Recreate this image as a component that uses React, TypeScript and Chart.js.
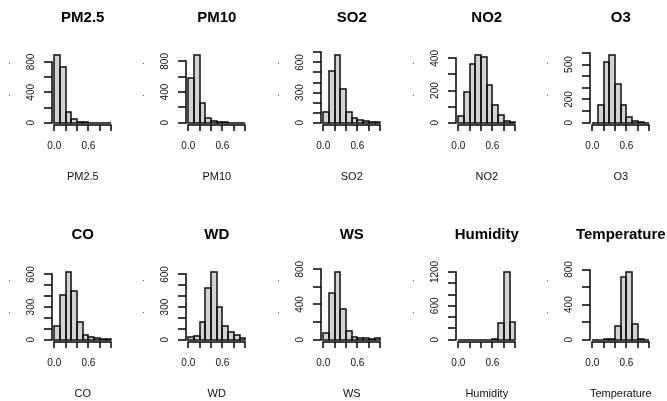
import { useEffect, useRef } from "react";
import { Chart, registerables } from "chart.js";

Chart.register(...registerables);

// ---- data ----
const binEdges = [0, 0.1, 0.2, 0.3, 0.4, 0.5, 0.6, 0.7, 0.8, 0.9, 1.0];
const binCenters = [0.05, 0.15, 0.25, 0.35, 0.45, 0.55, 0.65, 0.75, 0.85, 0.95];
const xTickValues = [0, 0.2, 0.4, 0.6, 0.8, 1.0];
const xTickLabels = ["0.0", "", "", "0.6", "", ""];

const pm25Counts = [896, 734, 140, 44, 7, 3, 1, 1, 0, 1];
const pm10Counts = [581, 887, 258, 57, 26, 8, 3, 2, 1, 1];
const so2Counts = [107, 517, 677, 333, 107, 43, 30, 17, 7, 3];
const no2Counts = [44, 190, 365, 423, 408, 233, 108, 46, 10, 2];
const o3Counts = [1, 153, 525, 585, 332, 153, 46, 17, 6, 0];
const coCounts = [123, 415, 625, 446, 163, 46, 28, 15, 6, 3];
const wdCounts = [22, 37, 163, 477, 625, 298, 129, 68, 40, 18];
const wsCounts = [72, 525, 772, 350, 99, 34, 19, 15, 11, 23];
const humidityCounts = [0, 0, 0, 0, 0, 0, 15, 296, 1205, 313];
const temperatureCounts = [0, 0, 3, 13, 153, 710, 775, 179, 11, 0];

const pmYTicks = [0, 200, 400, 600, 800];
const pmYLabels = [0, 400, 800];
const so2YTicks = [0, 100, 200, 300, 400, 500, 600, 700];
const so2YLabels = [0, 300, 600];
const no2YTicks = [0, 100, 200, 300, 400];
const no2YLabels = [0, 200, 400];
const o3YTicks = [0, 100, 200, 300, 400, 500, 600];
const o3YLabels = [0, 200, 500];
const coYTicks = [0, 100, 200, 300, 400, 500, 600];
const coYLabels = [0, 300, 600];
const wsYTicks = [0, 200, 400, 600, 800];
const wsYLabels = [0, 400, 800];
const humYTicks = [0, 200, 400, 600, 800, 1000, 1200];
const humYLabels = [0, 600, 1200];
const tempYTicks = [0, 200, 400, 600, 800];
const tempYLabels = [0, 400, 800];

type PanelDef = { title: string; counts: number[]; yTicks: number[]; yLabels: number[] };

const panels: PanelDef[] = [
  { title: "PM2.5", counts: pm25Counts, yTicks: pmYTicks, yLabels: pmYLabels },
  { title: "PM10", counts: pm10Counts, yTicks: pmYTicks, yLabels: pmYLabels },
  { title: "SO2", counts: so2Counts, yTicks: so2YTicks, yLabels: so2YLabels },
  { title: "NO2", counts: no2Counts, yTicks: no2YTicks, yLabels: no2YLabels },
  { title: "O3", counts: o3Counts, yTicks: o3YTicks, yLabels: o3YLabels },
  { title: "CO", counts: coCounts, yTicks: coYTicks, yLabels: coYLabels },
  { title: "WD", counts: wdCounts, yTicks: coYTicks, yLabels: coYLabels },
  { title: "WS", counts: wsCounts, yTicks: wsYTicks, yLabels: wsYLabels },
  { title: "Humidity", counts: humidityCounts, yTicks: humYTicks, yLabels: humYLabels },
  { title: "Temperature", counts: temperatureCounts, yTicks: tempYTicks, yLabels: tempYLabels },
];

// ---- layout ----
const FONT = "'Liberation Sans', Arial, Helvetica, sans-serif";
const COL_START = 51.7;
const COL_STEP = 134.6;
const UNIT = 57;
const MAX_H = 68;
const ROW_BASE = [122.7, 340];
const CANVAS_W = 140;
const CANVAS_H = 184;
const AXIS_LEFT_IN_CANVAS = 60;
const PLOT_W = UNIT * 1.08;
const LOCAL_BASE = 122.7;
const LW = 1.5;

function makeAxesPlugin(p: PanelDef) {
  return {
    id: "rAxes",
    afterDatasetsDraw(chart: any) {
      const { ctx, chartArea } = chart;
      const xs = chart.scales.x;
      const ys = chart.scales.y;
      ctx.save();
      ctx.lineWidth = LW;
      // bar outlines (R rect borders, including empty bins)
      ctx.strokeStyle = "#111";
      const meta = chart.getDatasetMeta(0);
      meta.data.forEach((el: any) => {
        const { x, y, base, width } = el.getProps(["x", "y", "base", "width"], true);
        const l = Math.round(x - width / 2);
        const r = Math.round(x + width / 2);
        const t = Math.round(y);
        const b = Math.round(base);
        ctx.strokeRect(l, t, r - l, b - t);
      });

      ctx.strokeStyle = "#000";
      ctx.fillStyle = "#111";
      // x axis
      const ya = Math.round(chartArea.bottom);
      const xFirst = Math.round(xs.getPixelForValue(xTickValues[0]));
      const xLast = Math.round(xs.getPixelForValue(xTickValues[xTickValues.length - 1]));
      ctx.beginPath();
      ctx.moveTo(xFirst - LW / 2, ya);
      ctx.lineTo(xLast + LW / 2, ya);
      xTickValues.forEach((v) => {
        const px = Math.round(xs.getPixelForValue(v));
        ctx.moveTo(px, ya);
        ctx.lineTo(px, ya + 6);
      });
      ctx.stroke();
      ctx.font = `10px ${FONT}`;
      ctx.textAlign = "center";
      ctx.textBaseline = "middle";
      xTickValues.forEach((v, i) => {
        if (xTickLabels[i]) ctx.fillText(xTickLabels[i], xs.getPixelForValue(v), chartArea.bottom + 20.5);
      });

      // y axis
      const xa = Math.round(chartArea.left);
      const yFirst = Math.round(ys.getPixelForValue(p.yTicks[0]));
      const yLast = Math.round(ys.getPixelForValue(p.yTicks[p.yTicks.length - 1]));
      ctx.beginPath();
      ctx.moveTo(xa, yFirst + LW / 2);
      ctx.lineTo(xa, yLast - LW / 2);
      p.yTicks.forEach((v) => {
        const py = Math.round(ys.getPixelForValue(v));
        ctx.moveTo(xa, py);
        ctx.lineTo(xa - 8, py);
      });
      ctx.stroke();
      p.yLabels.forEach((v) => {
        ctx.save();
        ctx.translate(chartArea.left - 21, ys.getPixelForValue(v));
        ctx.rotate(-Math.PI / 2);
        ctx.fillText(String(v), 0, 0);
        ctx.restore();
      });

      // faint marks left of the y axis
      const y0 = ys.getPixelForValue(0);
      ctx.fillStyle = "rgba(70,50,150,0.85)";
      ctx.fillRect(Math.round(chartArea.left - 43.5), Math.round(y0 - 59.5), 1, 1);
      ctx.fillRect(Math.round(chartArea.left - 43.5), Math.round(y0 - 28), 1, 1);

      // title and x label
      const cx = (chartArea.left + chartArea.right) / 2;
      ctx.fillStyle = "#000";
      ctx.font = `bold 15px ${FONT}`;
      ctx.fillText(p.title, cx, 18.2);
      ctx.fillStyle = "#111";
      ctx.font = `11px ${FONT}`;
      ctx.fillText(p.title, cx, chartArea.bottom + 52);
      ctx.restore();
    },
  };
}

function Panel({ p, idx }: { p: PanelDef; idx: number }) {
  const ref = useRef<HTMLCanvasElement>(null);
  const col = idx % 5;
  const row = Math.floor(idx / 5);
  const left = COL_START + COL_STEP * col - AXIS_LEFT_IN_CANVAS;
  const top = ROW_BASE[row] - LOCAL_BASE;

  useEffect(() => {
    const maxCount = Math.max(...p.counts);
    const padTop = LOCAL_BASE - MAX_H * 1.04;
    const padBottom = CANVAS_H - (LOCAL_BASE + MAX_H * 0.04);
    const chart = new Chart(ref.current as HTMLCanvasElement, {
      type: "bar",
      data: {
        datasets: [
          {
            data: binCenters.map((c, i) => ({ x: c, y: p.counts[i] })),
            backgroundColor: "#d3d3d3",
            borderWidth: 0,
            barPercentage: 1,
            categoryPercentage: 1,
          },
        ],
      },
      options: {
        responsive: false,
        animation: false,
        devicePixelRatio: 1,
        events: [],
        layout: {
          padding: {
            left: AXIS_LEFT_IN_CANVAS,
            right: CANVAS_W - AXIS_LEFT_IN_CANVAS - PLOT_W,
            top: padTop,
            bottom: padBottom,
          },
        },
        plugins: { legend: { display: false }, tooltip: { enabled: false } },
        scales: {
          x: {
            type: "linear",
            min: -0.04,
            max: 1.04,
            offset: false,
            display: false,
            afterBuildTicks: (s: any) => {
              s.ticks = binEdges.map((v) => ({ value: v }));
            },
          },
          y: {
            type: "linear",
            min: -0.04 * maxCount,
            max: 1.04 * maxCount,
            display: false,
          },
        },
      } as any,
      plugins: [makeAxesPlugin(p)],
    });
    return () => chart.destroy();
  }, []);

  return (
    <canvas
      ref={ref}
      width={CANVAS_W}
      height={CANVAS_H}
      style={{ position: "absolute", left, top, width: CANVAS_W, height: CANVAS_H }}
    />
  );
}

export default function App() {
  return (
    <div
      style={{
        position: "absolute",
        left: 0,
        top: 0,
        width: 667,
        height: 401,
        overflow: "hidden",
        background: "#fff",
      }}
    >
      {panels.map((p, i) => (
        <Panel key={p.title} p={p} idx={i} />
      ))}
    </div>
  );
}
